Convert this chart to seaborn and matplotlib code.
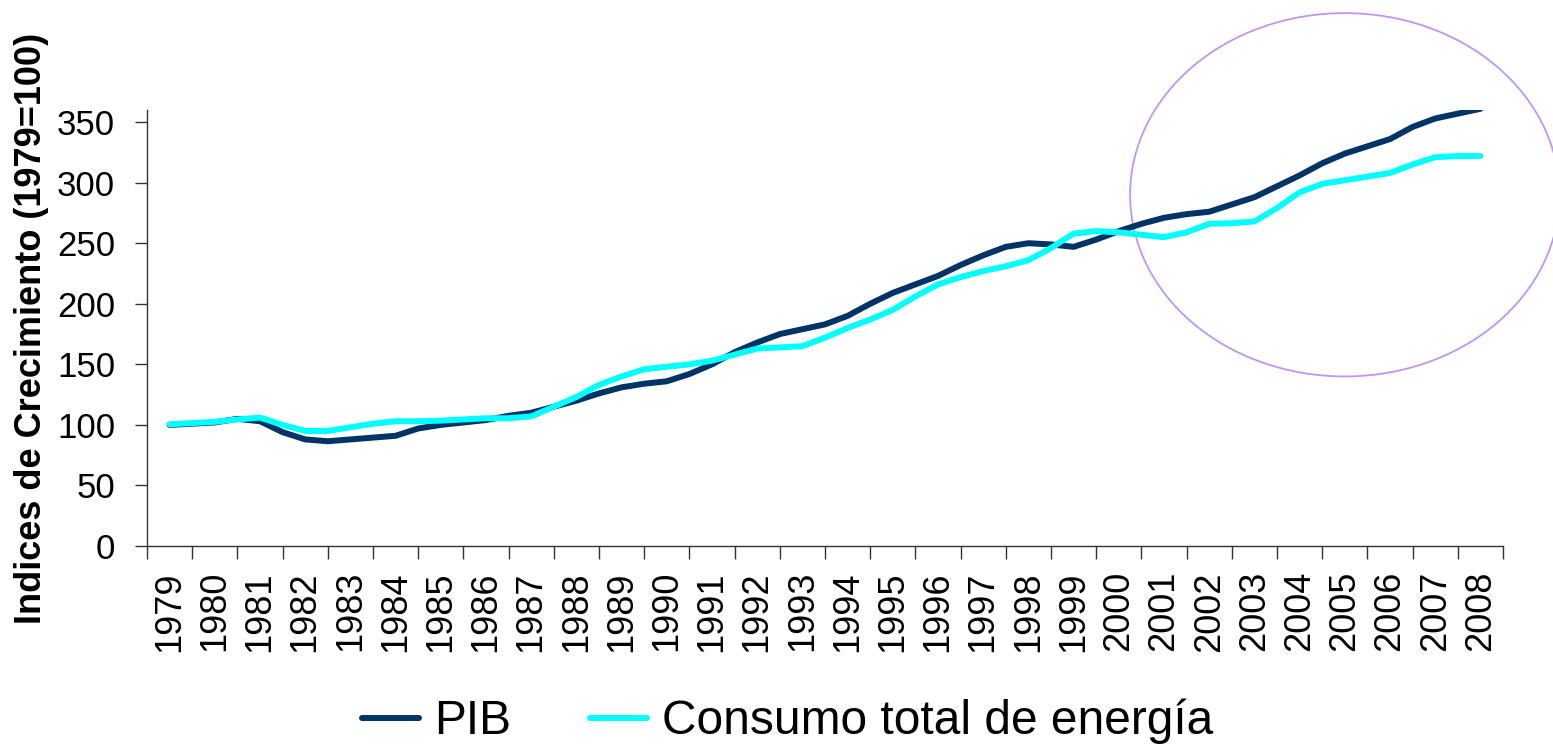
import numpy as np
import pandas as pd
import seaborn as sns
import matplotlib.pyplot as plt
from matplotlib.patches import Ellipse

# half-year readings taken off the original chart, 1979.0 .. 2008.0
periods = [1979 + 0.5 * i for i in range(59)]

pib = [100, 101, 102, 105, 103, 94, 88, 86.5, 88, 89.5,
       91, 97, 100, 102, 104, 107.5, 110, 115, 120, 126,
       131, 134, 136, 142, 150, 160, 168, 175, 179, 183,
       190, 200, 209, 216, 223, 232, 240, 247, 250, 249,
       247, 253, 260, 266, 271, 274, 276, 282, 288, 297,
       306, 316, 324, 330, 336, 346, 353, 357, 361]

consumo = [100.5, 101.5, 102.5, 104.5, 106, 100, 95, 95, 98, 101,
           103, 103, 103.5, 104.5, 105.5, 105.5, 107, 115, 123, 133,
           140, 146, 148, 150, 153, 158, 163, 164, 165, 172,
           180, 187, 195, 206, 216, 222, 227, 231, 236, 246,
           258, 260, 259, 257, 255, 259, 266, 266.5, 268, 279,
           292, 299, 302, 305, 308, 315, 321, 322, 322]

years = list(range(1979, 2009))
series_names = ['PIB', 'Consumo total de energía']
colors = ['#003366', '#00FFFF']

df = pd.DataFrame({
    'Periodo': periods * 2,
    'Indice': pib + consumo,
    'Serie': [series_names[0]] * len(pib) + [series_names[1]] * len(consumo),
})

sns.set_style('white')
plt.rcParams['font.family'] = ['Liberation Sans', 'DejaVu Sans']
plt.rcParams['text.color'] = 'black'
plt.rcParams['xtick.color'] = 'black'
plt.rcParams['ytick.color'] = 'black'
plt.rcParams['axes.labelcolor'] = 'black'

fig = plt.figure(figsize=(15.53, 7.44), dpi=100)
ax = fig.add_axes([147 / 1553, 1 - 546 / 744, 1356 / 1553, 436 / 744])

sns.lineplot(data=df, x='Periodo', y='Indice', hue='Serie',
             palette=dict(zip(series_names, colors)), linewidth=4.3,
             legend=False, ax=ax, solid_capstyle='round')

ax.set_xlim(years[0] - 0.5, years[-1] + 0.5)
ax.set_ylim(0, 360)
ax.set_yticks(range(0, 351, 50))
ax.set_xticks(years)
ax.set_xticklabels([str(y) for y in years], rotation=90)
ax.set_xticks(np.arange(years[0] - 0.5, years[-1] + 1), minor=True)
ax.tick_params(axis='x', which='major', length=0, labelsize=26, pad=18)
ax.tick_params(axis='x', which='minor', length=9, width=1, color='#333333',
               direction='out', bottom=True)
ax.tick_params(axis='y', length=9, width=1, color='#333333', direction='out',
               left=True, labelsize=25, pad=14)
ax.set_xlabel('')
ax.set_ylabel('Indices de Crecimiento (1979=100)', fontsize=26,
              fontweight='bold', labelpad=6)

for side in ['top', 'right']:
    ax.spines[side].set_visible(False)
for side in ['left', 'bottom']:
    ax.spines[side].set_color('#333333')
    ax.spines[side].set_linewidth(1)

# highlight of the last years
ax.add_patch(Ellipse((2005, 290), 9.5, 300, fill=False, edgecolor='#bf95f5',
                     linewidth=1.3, clip_on=False))

handles = [plt.Line2D([], [], color=c, linewidth=4.3, solid_capstyle='round')
           for c in colors]
fig.legend(handles, series_names, loc='center', bbox_to_anchor=(0.507, 0.030),
           ncol=2, frameon=False, fontsize=34.5, handlelength=1.2,
           handletextpad=0.3, columnspacing=1.65)

plt.savefig('out.png', dpi=100)
plt.close()
